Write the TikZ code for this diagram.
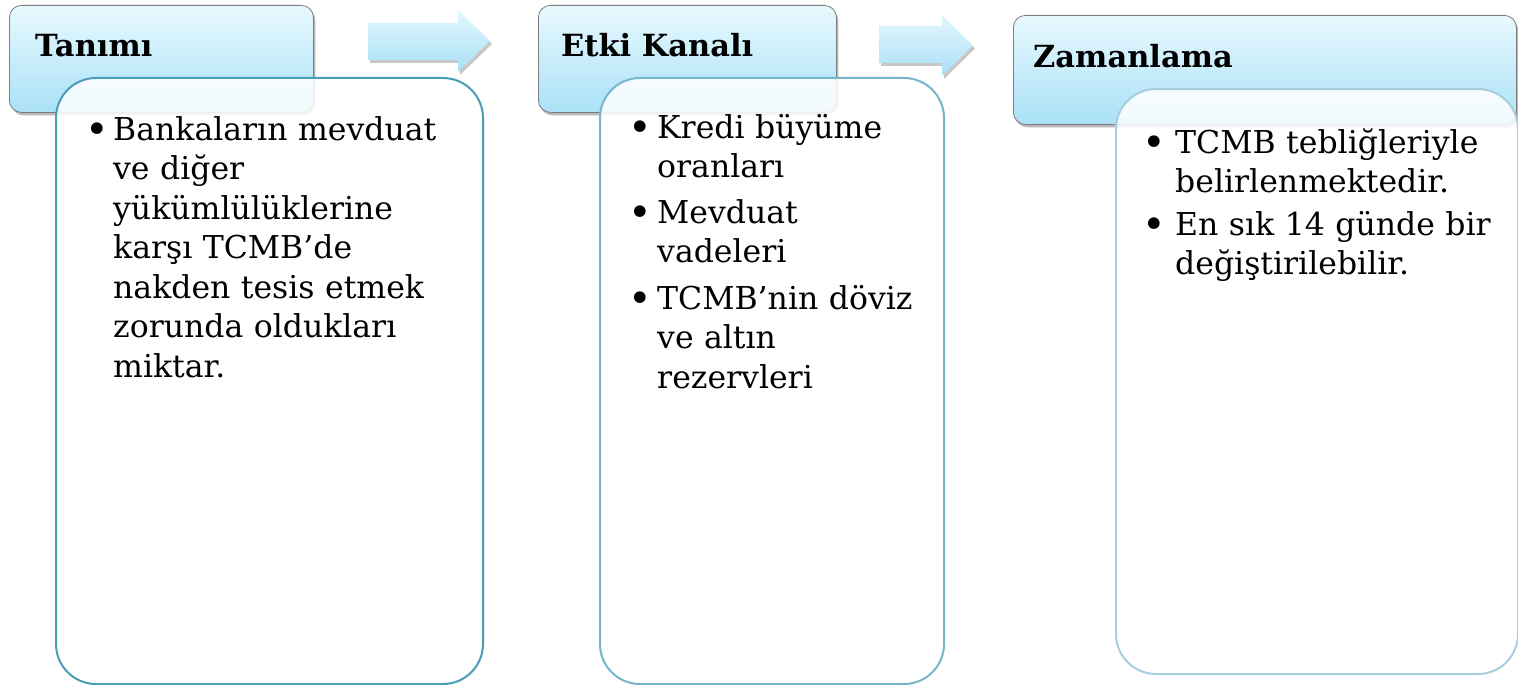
\documentclass[tikz,border=0pt]{standalone}
\usepackage{fontspec}
\setmainfont{DejaVu Serif}
\usetikzlibrary{shadows}
\definecolor{hdrtop}{RGB}{232,249,254}
\definecolor{hdrbot}{RGB}{170,225,247}
\definecolor{hdrline}{RGB}{125,125,125}
\definecolor{arrtop}{RGB}{228,247,254}
\definecolor{arrbot}{RGB}{170,224,246}
\definecolor{bodyA}{RGB}{72,158,184}
\definecolor{bodyB}{RGB}{118,181,204}
\definecolor{bodyC}{RGB}{166,206,223}
\begin{document}
\begin{tikzpicture}[x=1pt,y=-1pt,
  hdr/.style={draw=hdrline, line width=0.8pt, rounded corners=12pt,
    top color=hdrtop, bottom color=hdrbot, anchor=north west, inner sep=0pt,
    drop shadow={shadow xshift=2pt, shadow yshift=-3pt, opacity=0.28, fill=black}},
  hdrtext/.style={font=\fontsize{30.5}{36}\selectfont\bfseries, anchor=base west, inner sep=0pt},
  body/.style={line width=2pt, rounded corners=40pt, fill=white, fill opacity=0.86,
    anchor=north west, inner sep=0pt},
  blockarrow/.style={top color=arrtop, bottom color=arrbot, draw=none,
    drop shadow={shadow xshift=2pt, shadow yshift=-3pt, opacity=0.22, fill=black}},
  item/.style={font=\fontsize{31.5}{39.5}\selectfont, anchor=base west, inner sep=0pt,
    align=left, text width=380pt},
  bul/.style={font=\fontsize{40}{40}\selectfont, anchor=base, inner sep=0pt}]
\useasboundingbox (0,0) rectangle (1518,685);

% headers
\node[hdr, minimum width=304pt, minimum height=107pt] (h1) at (9,5) {};
\node[hdr, minimum width=298pt, minimum height=107pt] (h2) at (538,5) {};
\node[hdr, minimum width=503pt, minimum height=109pt] (h3) at (1013,15) {};

\node[hdrtext] (h1t) at (35,57) {Tanımı};
\node[hdrtext] (h2t) at (561,57) {Etki Kanalı};
\node[hdrtext] (h3t) at (1033,67) {Zamanlama};

% block arrows
\path[blockarrow] (368,23) -- (458,23) -- (458,10) -- (490,41) -- (458,72) -- (458,60) -- (368,60) -- cycle;
\path[blockarrow] (879,26) -- (942,26) -- (942,15) -- (973,45.5) -- (942,76) -- (942,63) -- (879,63) -- cycle;

% bodies
\node[body, draw=bodyA, minimum width=427pt, minimum height=606pt] (b1) at (55,77) {};
\node[body, draw=bodyB, minimum width=344pt, minimum height=606pt] (b2) at (599,77) {};
\node[body, draw=bodyC, minimum width=402pt, minimum height=585pt] (b3) at (1115,88) {};

% body 1 text
\node[bul] (b1u1) at (97,143) {•};
\node[item] (b1i1) at (113,140) {Bankaların mevduat\\ve diğer\\yükümlülüklerine\\karşı TCMB’de\\nakden tesis etmek\\zorunda oldukları\\miktar.};

% body 2 text
\node[bul] (b2u1) at (640,141) {•};
\node[item] (b2i1) at (657,138) {Kredi büyüme\\oranları};
\node[bul] (b2u2) at (640,226) {•};
\node[item] (b2i2) at (657,223) {Mevduat\\vadeleri};
\node[bul] (b2u3) at (640,312) {•};
\node[item] (b2i3) at (657,309) {TCMB’nin döviz\\ve altın\\rezervleri};

% body 3 text
\node[bul] (b3u1) at (1154,156) {•};
\node[item] (b3i1) at (1175,153) {TCMB tebliğleriyle\\belirlenmektedir.};
\node[bul] (b3u2) at (1154,238) {•};
\node[item] (b3i2) at (1175,235) {En sık 14 günde bir\\değiştirilebilir.};
\end{tikzpicture}
\end{document}
